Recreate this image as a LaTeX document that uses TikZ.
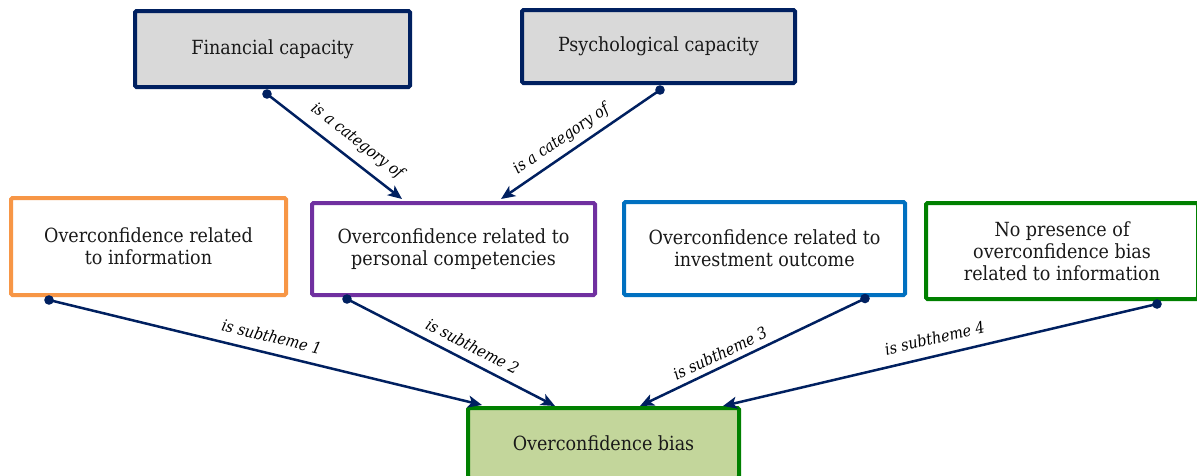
\documentclass[tikz,border=0pt]{standalone}
\usepackage{fontspec}
\setmainfont{DejaVu Serif Condensed}
\usetikzlibrary{arrows.meta,calc}
\definecolor{navy}{HTML}{002060}
\definecolor{boxgray}{HTML}{D9D9D9}
\definecolor{orng}{HTML}{F79646}
\definecolor{purp}{HTML}{7030A0}
\definecolor{blu}{HTML}{0070C0}
\definecolor{grn}{HTML}{008000}
\definecolor{lgreen}{HTML}{C3D69B}
\tikzset{
  box/.style={draw, line width=4pt, rounded corners=1.5pt, align=center, inner sep=0pt,
    font=\fontsize{19.5}{22}\selectfont, text=black!90},
  conn/.style={draw=navy, line width=2.5pt, -{Stealth[length=14pt,width=12pt,inset=3.5pt]}},
  lbl/.style={sloped, inner sep=0pt, font=\itshape\fontsize{16}{18}\selectfont, text=black},
  dot/.style={fill=navy}
}
\begin{document}
\begin{tikzpicture}[x=1pt,y=-1pt]
\clip (0,0) rectangle (1197,475);
\fill[white] (0,0) rectangle (1197,475);
% top boxes
\node[box, draw=navy, fill=boxgray, minimum width=275pt, minimum height=76pt] (fin) at (272.5,49) {Financial capacity};
\node[box, draw=navy, fill=boxgray, minimum width=273pt, minimum height=73pt] (psy) at (658.5,46.5) {Psychological capacity};
% middle boxes
\node[box, draw=orng, fill=white, minimum width=275pt, minimum height=97pt] (inf) at (148.5,246.5) {Overconfidence related\\to information};
\node[box, draw=purp, fill=white, minimum width=283pt, minimum height=92pt] (pers) at (453.5,249) {Overconfidence related to\\personal competencies};
\node[box, draw=blu, fill=white, minimum width=281pt, minimum height=93pt] (inv) at (764.5,248.5) {Overconfidence related to\\investment outcome};
\node[box, draw=grn, fill=white, minimum width=272pt, minimum height=96pt] (nop) at (1062,251) {No presence of\\overconfidence bias\\related to information};
% bottom box
\node[box, draw=grn, fill=lgreen, minimum width=271pt, minimum height=70pt] (bias) at (603.5,443) {Overconfidence bias};
% anchor coordinates
\coordinate (s1) at ($(fin.south)+(-5.5,5)$);
\coordinate (s2) at ($(psy.south)+(1.5,5)$);
\coordinate (e1) at ($(pers.north)+(-51.5,-2)$);
\coordinate (e2) at ($(pers.north)+(47.5,-2)$);
\coordinate (s3) at ($(inf.south)+(-99.5,3)$);
\coordinate (s4) at ($(pers.south)+(-106.5,2)$);
\coordinate (s5) at ($(inv.south)+(100.5,1.5)$);
\coordinate (s6) at ($(nop.south)+(95,3)$);
\coordinate (e3) at ($(bias.north)+(-121.5,-1)$);
\coordinate (e4) at ($(bias.north)+(-48.5,0)$);
\coordinate (e5) at ($(bias.north)+(36.5,0)$);
\coordinate (e6) at ($(bias.north)+(119.5,0)$);
% connectors
\draw[conn] (s1) -- node[lbl, pos=0.585, above=9pt] {is a category of} (e1);
\draw[conn] (s2) -- node[lbl, pos=0.567, above=6pt] {is a category of} (e2);
\draw[conn] (s3) -- node[lbl, pos=0.505, above=9.5pt] {is subtheme 1} (e3);
\draw[conn] (s4) -- node[lbl, pos=0.57, above=8pt] {is subtheme 2} (e4);
\draw[conn] (s5) -- node[lbl, pos=0.62, above=5.5pt] {is subtheme 3} (e5);
\draw[conn] (s6) -- node[lbl, pos=0.503, above=10.5pt] {is subtheme 4} (e6);
\foreach \s in {s1,s2,s3,s4,s5,s6} \fill[dot] (\s) circle (4.8pt);
\end{tikzpicture}
\end{document}
